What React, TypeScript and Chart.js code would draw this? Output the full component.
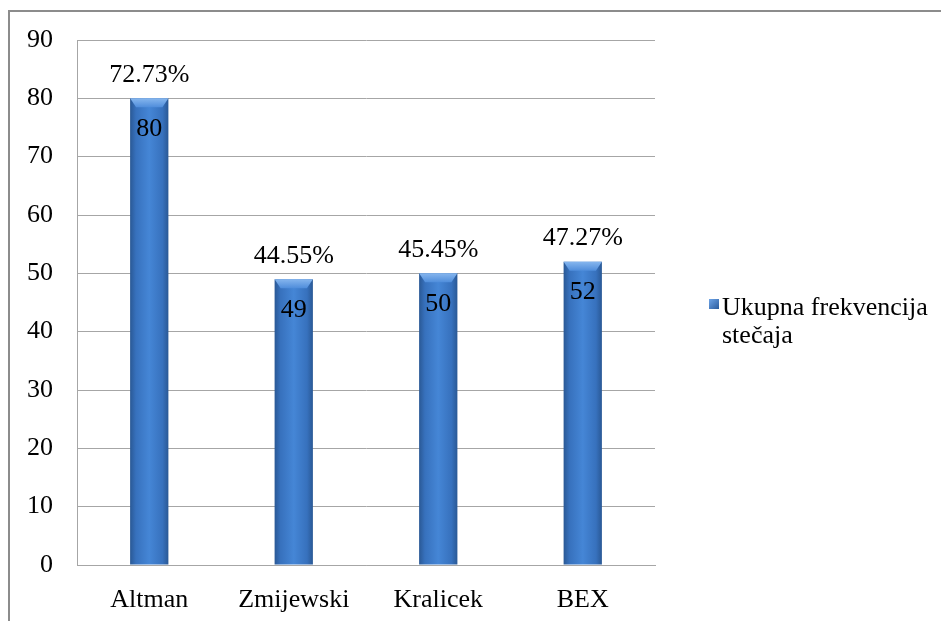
import React, { useEffect, useRef } from "react";
import { Chart, registerables } from "chart.js";

Chart.register(...registerables);

const categories = ["Altman", "Zmijewski", "Kralicek", "BEX"];
const values = [80, 49, 50, 52];
const percentLabels = ["72.73%", "44.55%", "45.45%", "47.27%"];
const seriesLabelLines = ["Ukupna frekvencija", "stečaja"];
const yMin = 0;
const yMax = 90;
const yStep = 10;

const FONT = '"Liberation Serif", "Times New Roman", serif';

function barGradient(c: CanvasRenderingContext2D, left: number, right: number) {
  const g = c.createLinearGradient(left, 0, right, 0);
  g.addColorStop(0, "#2a5996");
  g.addColorStop(0.15, "#3771bd");
  g.addColorStop(0.5, "#4586d6");
  g.addColorStop(0.85, "#3771bd");
  g.addColorStop(1, "#2a5996");
  return g;
}

const decorPlugin = {
  id: "decor",
  afterDatasetsDraw(chart: any) {
    const c: CanvasRenderingContext2D = chart.ctx;
    const meta = chart.getDatasetMeta(0);
    c.save();
    meta.data.forEach((bar: any, i: number) => {
      const { x, y, width } = bar.getProps(["x", "y", "width"], true);
      const left = x - width / 2;
      const right = x + width / 2;
      const bev = c.createLinearGradient(0, y, 0, y + 9);
      bev.addColorStop(0, "#86b6ee");
      bev.addColorStop(1, "#4f8ddb");
      c.fillStyle = bev;
      c.beginPath();
      c.moveTo(left, y);
      c.lineTo(right, y);
      c.lineTo(right - 6, y + 9);
      c.lineTo(left + 6, y + 9);
      c.closePath();
      c.fill();
      c.fillStyle = "#000";
      c.textAlign = "center";
      c.textBaseline = "middle";
      c.font = `26px ${FONT}`;
      c.fillText(percentLabels[i], x, y - 23);
      c.fillText(String(values[i]), x, y + 31);
    });
    c.restore();
  },
  afterDraw(chart: any) {
    const c: CanvasRenderingContext2D = chart.ctx;
    c.save();
    const mx = 709;
    const my = 299;
    const g = c.createLinearGradient(mx, my, mx + 10, my + 10);
    g.addColorStop(0, "#6fa5e8");
    g.addColorStop(1, "#2a5b9c");
    c.fillStyle = g;
    c.fillRect(mx, my, 10, 10);
    c.fillStyle = "#000";
    c.textAlign = "left";
    c.textBaseline = "alphabetic";
    c.font = `26px ${FONT}`;
    c.fillText(seriesLabelLines[0], 722, 315);
    c.fillText(seriesLabelLines[1], 722, 343);
    c.restore();
  },
};

export default function App() {
  const ref = useRef<HTMLCanvasElement>(null);
  useEffect(() => {
    if (!ref.current) return;
    let chart: Chart | null = null;
    let cancelled = false;
    const create = () => {
      if (cancelled || !ref.current) return;
      chart = new Chart(ref.current, {
        type: "bar",
        data: {
          labels: categories,
          datasets: [
            {
              label: seriesLabelLines.join(" "),
              data: values,
              barPercentage: 1,
              categoryPercentage: 0.265,
              borderWidth: 0,
              backgroundColor: (ctx: any) => {
                const ch = ctx.chart;
                if (!ch.chartArea || ctx.type !== "data") return "#3a78c8";
                const x = ch.scales.x.getPixelForValue(ctx.dataIndex);
                return barGradient(ch.ctx, x - 19, x + 19);
              },
            },
          ],
        },
        options: {
          responsive: false,
          animation: false,
          devicePixelRatio: 1,
          layout: { padding: { left: 0, top: 40, right: 286, bottom: 0 } },
          plugins: {
            legend: { display: false },
            tooltip: { enabled: false },
          },
          scales: {
            y: {
              min: yMin,
              max: yMax,
              ticks: {
                stepSize: yStep,
                color: "#000",
                font: { family: FONT, size: 26 },
                padding: 24,
              },
              grid: { color: "#a6a6a6", lineWidth: 1, drawTicks: false },
              border: { display: true, color: "#a6a6a6", width: 1 },
              afterFit: (s: any) => {
                s.width = 77;
              },
            },
            x: {
              ticks: {
                color: "#000",
                font: { family: FONT, size: 26 },
                padding: 20,
              },
              grid: { display: false, drawTicks: false },
              border: { display: true, color: "#a6a6a6", width: 1 },
              afterFit: (s: any) => {
                s.height = 56;
              },
            },
          },
        },
        plugins: [decorPlugin],
      });
    };
    const fonts: any = (document as any).fonts;
    if (fonts && fonts.load) {
      fonts
        .load('26px "Liberation Serif"', "Ukupna stečaja 0123456789%")
        .then(create, create);
    } else {
      create();
    }
    return () => {
      cancelled = true;
      if (chart) chart.destroy();
    };
  }, []);

  return (
    <div
      style={{
        position: "fixed",
        left: 0,
        top: 0,
        width: 941,
        height: 621,
        overflow: "hidden",
        background: "#fff",
      }}
    >
      <div
        style={{
          position: "absolute",
          left: 8,
          top: 10,
          width: 1200,
          height: 1200,
          border: "2px solid #8c8c8c",
        }}
      />
      <canvas
        ref={ref}
        width={941}
        height={621}
        style={{ position: "absolute", left: 0, top: 0, width: 941, height: 621 }}
      />
    </div>
  );
}
